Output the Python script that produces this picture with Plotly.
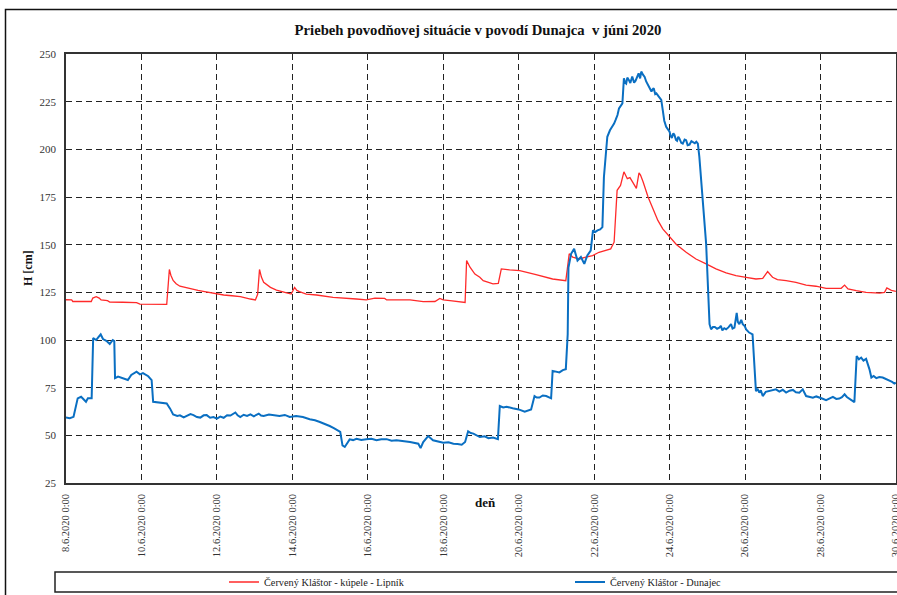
import pandas as pd
import plotly.graph_objects as go

START = pd.Timestamp("2020-06-08 00:00")

# Vodný stav H [cm], časy v dňoch od 8.6.2020 0:00
lipnik_days = [
    0.00, 0.15, 0.18, 0.60, 0.67, 0.71, 0.80, 0.88, 0.93, 1.10, 1.16, 1.50, 1.87, 1.96,
    2.30, 2.67, 2.74, 2.78, 2.84, 2.92, 3.02, 3.20, 3.38, 3.50, 3.64, 3.91, 4.18, 4.40,
    4.62, 4.89, 5.02, 5.08, 5.13, 5.18, 5.24, 5.42, 5.58, 5.80, 5.97, 6.06, 6.12, 6.19,
    6.37, 6.64, 7.08, 7.70, 7.96, 8.19, 8.45, 8.50, 9.12, 9.47, 9.78, 9.91, 10.00, 10.18,
    10.35, 10.58, 10.62, 10.71, 10.84, 10.97, 11.06, 11.32, 11.46, 11.54, 11.76, 12.03,
    12.46, 12.90, 13.25, 13.30, 13.34, 13.43, 13.61, 13.78, 13.96, 14.13, 14.31, 14.44,
    14.53, 14.61, 14.70, 14.79, 14.88, 14.95, 15.03, 15.12, 15.19, 15.23, 15.30, 15.43,
    15.56, 15.69, 15.82, 16.00, 16.18, 16.44, 16.70, 16.97, 17.23, 17.50, 17.76, 18.03,
    18.29, 18.47, 18.60, 18.73, 18.86, 19.09, 19.35, 19.62, 19.88, 20.15, 20.55, 20.64,
    20.73, 20.95, 21.21, 21.57, 21.70, 21.76, 21.88, 22.00,
]
lipnik_h = [
    121.1, 121.0, 120.2, 120.0, 120.2, 122.0, 122.7, 122.0, 121.0, 120.6, 119.9, 119.8, 119.6, 118.8,
    118.8, 118.7, 137.0, 134.0, 131.2, 129.5, 128.2, 127.3, 126.2, 126.0, 125.5, 124.5, 123.6, 123.2,
    122.7, 121.5, 121.0, 124.0, 137.0, 133.0, 130.3, 127.6, 126.2, 125.0, 124.1, 127.6, 126.0, 125.4,
    124.1, 123.6, 122.4, 121.5, 121.0, 122.0, 121.8, 121.0, 121.0, 120.1, 120.2, 121.8, 121.0, 120.6,
    120.1, 119.7, 141.7, 138.2, 134.6, 132.9, 131.1, 129.4, 129.7, 137.3, 136.8, 136.4,
    134.3, 132.0, 131.1, 138.0, 145.2, 143.5, 142.5, 143.5, 144.3, 146.0, 146.9, 147.8,
    151.3, 178.5, 181.1, 188.2, 184.6, 185.2, 182.5, 179.5, 187.6, 186.5, 182.9, 175.0,
    168.9, 162.7, 158.3, 153.9, 150.1, 146.0, 142.5, 139.9, 137.3, 135.2, 133.8, 132.9,
    132.0, 132.3, 135.9, 132.9, 131.7, 131.1, 130.2, 128.8, 128.2, 127.1, 127.1, 128.8,
    126.8, 125.9, 125.0, 124.6, 125.0, 127.3, 126.0, 125.5,
]

dunajec_days = [
    0.00, 0.10, 0.20, 0.28, 0.31, 0.40, 0.45, 0.53, 0.58, 0.68, 0.72, 0.80, 0.86, 0.92,
    0.98, 1.07, 1.16, 1.24, 1.28, 1.30, 1.38, 1.50, 1.64, 1.73, 1.87, 1.96, 2.04, 2.18,
    2.27, 2.31, 2.49, 2.67, 2.76, 2.84, 2.95, 3.02, 3.12, 3.20, 3.30, 3.38, 3.47, 3.56,
    3.65, 3.73, 3.82, 3.91, 4.00, 4.09, 4.18, 4.27, 4.36, 4.49, 4.55, 4.62, 4.71, 4.80,
    4.89, 4.98, 5.11, 5.17, 5.24, 5.38, 5.52, 5.66, 5.80, 5.93, 6.10, 6.28, 6.46, 6.60,
    6.73, 6.86, 6.99, 7.10, 7.21, 7.27, 7.33, 7.39, 7.52, 7.61, 7.70, 7.83, 7.96, 8.10,
    8.23, 8.36, 8.50, 8.63, 8.76, 8.94, 9.12, 9.34, 9.40, 9.47, 9.60, 9.73, 9.86, 10.00,
    10.14, 10.27, 10.38, 10.49, 10.58, 10.66, 10.73, 10.80, 10.97, 11.10, 11.20, 11.32,
    11.45, 11.50, 11.59, 11.68, 11.84, 12.00, 12.16, 12.33, 12.42, 12.48, 12.55, 12.64,
    12.73, 12.86, 12.90, 12.99, 13.08, 13.17, 13.25, 13.30, 13.32, 13.39, 13.47, 13.56,
    13.65, 13.74, 13.82, 13.91, 13.97, 14.03, 14.09, 14.16, 14.22, 14.26, 14.35, 14.42,
    14.48, 14.53, 14.57, 14.62, 14.66, 14.75, 14.79, 14.82, 14.85, 14.88, 14.92, 14.96,
    15.01, 15.04, 15.06, 15.10, 15.14, 15.18, 15.22, 15.25, 15.30, 15.34, 15.38, 15.43,
    15.47, 15.52, 15.55, 15.58, 15.62, 15.65, 15.70, 15.74, 15.78, 15.82, 15.86, 15.91,
    15.96, 16.00, 16.03, 16.06, 16.10, 16.13, 16.17, 16.20, 16.23, 16.26, 16.31, 16.35,
    16.40, 16.44, 16.48, 16.53, 16.58, 16.62, 16.67, 16.71, 16.75, 16.79, 16.88, 16.97,
    17.06, 17.10, 17.15, 17.20, 17.26, 17.32, 17.36, 17.40, 17.45, 17.50, 17.56, 17.63,
    17.67, 17.72, 17.78, 17.81, 17.85, 17.90, 17.94, 17.99, 18.03, 18.11, 18.20, 18.29,
    18.33, 18.38, 18.42, 18.47, 18.55, 18.64, 18.73, 18.82, 18.91, 19.00, 19.09, 19.18,
    19.27, 19.35, 19.44, 19.53, 19.62, 19.71, 19.80, 19.89, 19.97, 20.06, 20.15, 20.24,
    20.33, 20.42, 20.50, 20.57, 20.64, 20.70, 20.77, 20.84, 20.90, 20.96, 21.02, 21.08,
    21.14, 21.21, 21.26, 21.30, 21.35, 21.41, 21.48, 21.56, 21.65, 21.74, 21.83, 21.90,
    21.96, 22.00,
]
dunajec_h = [
    59.3, 59.0, 59.7, 66.0, 69.4, 70.2, 69.0, 67.6, 69.4, 69.4, 101.0, 100.0, 101.5, 103.0,
    100.5, 99.6, 97.9, 100.0, 99.5, 80.0, 80.8, 80.0, 79.0, 81.7, 83.4, 82.0, 82.6, 81.0,
    79.0, 67.6, 67.0, 66.7, 64.0, 61.0, 60.2, 60.5, 59.4, 60.0, 61.1, 60.6, 59.6, 59.3,
    60.5, 60.6, 59.2, 59.6, 58.8, 59.8, 59.2, 60.5, 60.4, 62.0, 60.5, 59.6, 60.8, 60.2,
    61.0, 60.0, 61.4, 60.4, 60.2, 60.9, 60.4, 60.2, 60.7, 59.6, 60.1, 59.6, 58.4, 57.9,
    57.0, 56.1, 54.9, 53.8, 52.6, 51.8, 44.7, 43.9, 47.9, 47.5, 48.2, 47.6, 47.9, 48.2,
    47.4, 47.9, 48.0, 47.2, 47.4, 47.0, 46.5, 45.6, 43.3, 46.5, 49.6, 47.4, 46.8, 46.1,
    46.4, 45.6, 45.4, 45.1, 46.5, 52.1, 51.2, 50.9, 49.1, 49.5, 48.5, 48.8,
    48.0, 65.4, 64.6, 65.0, 64.2, 63.6, 62.4, 63.6, 70.6, 69.8, 69.8, 70.9,
    70.6, 69.4, 83.8, 83.3, 83.0, 84.2, 84.7, 103.0, 138.0, 145.2, 147.8, 141.7,
    143.5, 139.9, 144.3, 146.9, 157.5, 156.6, 157.5, 158.0, 159.2, 185.5, 206.6, 210.0,
    211.8, 213.5, 215.4, 218.0, 221.5, 224.1, 237.3, 235.0, 234.5, 237.6, 236.4, 234.8,
    238.2, 236.5, 235.0, 236.0, 238.4, 239.9, 237.2, 240.8, 239.0, 238.0, 235.6, 233.8,
    232.0, 230.3, 231.4, 232.0, 229.0, 229.4, 228.0, 227.2, 225.9, 220.6, 215.0, 211.8,
    210.2, 209.2, 207.0, 206.0, 208.4, 207.5, 205.0, 204.5, 206.6, 205.7, 203.4, 203.0,
    205.1, 204.8, 202.2, 202.5, 204.3, 203.9, 203.2, 204.0, 203.0, 196.0, 173.2, 150.4,
    108.3, 105.6, 106.8, 106.8, 105.9, 106.5, 107.4, 105.0, 106.2, 105.6, 106.6, 108.3,
    106.0, 106.5, 114.2, 109.5, 108.3, 110.6, 108.3, 107.4, 105.6, 103.9, 103.0, 73.2,
    74.4, 72.4, 73.6, 70.6, 72.8, 73.2, 73.5, 74.1, 72.9, 73.9, 72.4, 73.4,
    73.8, 72.6, 72.4, 74.1, 70.6, 70.2, 69.7, 70.4, 70.0, 69.2, 68.5, 69.4,
    70.2, 69.1, 69.3, 70.0, 71.5, 70.1, 69.3, 68.3, 67.4, 91.6, 89.9, 90.8,
    89.2, 90.1, 87.5, 84.6, 80.3, 81.1, 80.0, 80.6, 80.3, 79.6, 78.6, 78.0,
    77.1, 77.6,
]

tick_days = [0, 2, 4, 6, 8, 10, 12, 14, 16, 18, 20, 22]
tick_labels = [
    "8.6.2020 0:00", "10.6.2020 0:00", "12.6.2020 0:00", "14.6.2020 0:00",
    "16.6.2020 0:00", "18.6.2020 0:00", "20.6.2020 0:00", "22.6.2020 0:00",
    "24.6.2020 0:00", "26.6.2020 0:00", "28.6.2020 0:00", "30.6.2020 0:00",
]
y_ticks = [25, 50, 75, 100, 125, 150, 175, 200, 225, 250]


def to_time(days):
    return START + pd.to_timedelta(days, unit="D")


SERIF = "Liberation Serif, Times New Roman, serif"

fig = go.Figure()
fig.add_trace(go.Scatter(
    x=to_time(lipnik_days), y=lipnik_h, mode="lines",
    name="Červený Kláštor - kúpele - Lipník",
    line=dict(color="#ff2a2a", width=1.3),
    legend="legend",
))
fig.add_trace(go.Scatter(
    x=to_time(dunajec_days), y=dunajec_h, mode="lines",
    name="Červený Kláštor - Dunajec",
    line=dict(color="#0a6fc2", width=2.0),
    legend="legend2",
))

# plot area: 66..896 px horizontally, 54..483 px vertically
L, R, T, B = 66, 1, 54, 112
PW, PH = 897 - L - R, 595 - T - B


def px(xp):
    return (xp - L) / PW


def py(yp):
    return (595 - B - yp) / PH


legend_style = dict(
    orientation="h", xref="paper", yref="paper",
    xanchor="left", yanchor="middle", y=py(582),
    bgcolor="rgba(0,0,0,0)", borderwidth=0,
    font=dict(family=SERIF, size=10.3, color="#222222"),
    itemwidth=30,
)

fig.update_layout(
    width=897, height=595,
    margin=dict(l=L, r=R, t=T, b=B, autoexpand=False),
    paper_bgcolor="white", plot_bgcolor="white",
    font=dict(family=SERIF, color="#333333", size=11),
    title=dict(
        text="Priebeh povodňovej situácie v povodí Dunajca  v júni 2020",
        xref="container", x=478 / 897, xanchor="center",
        yref="container", y=1 - 30 / 595, yanchor="middle",
        font=dict(family=SERIF, size=14.7, color="#111111", weight="bold"),
    ),
    showlegend=True,
    legend=dict(legend_style, x=px(224)),
    legend2=dict(legend_style, x=px(570)),
)

fig.update_xaxes(
    type="date",
    range=[to_time(0), to_time(22.003)],
    tickmode="array", tickvals=to_time(tick_days), ticktext=tick_labels,
    tickangle=-90, tickfont=dict(family=SERIF, size=10.5, color="#333333"),
    ticks="", ticklabelstandoff=5, ticklabeloverflow="allow",
    showgrid=True, gridcolor="#222222", griddash="6px,4px", gridwidth=1,
    showline=True, linecolor="#333333", linewidth=1.5, mirror=True,
    zeroline=False,
)
fig.update_yaxes(
    range=[25, 250], tickmode="array", tickvals=y_ticks,
    tickfont=dict(family=SERIF, size=11, color="#333333"),
    ticks="", ticklabelstandoff=6,
    showgrid=True, gridcolor="#222222", griddash="6px,4px", gridwidth=1,
    showline=True, linecolor="#333333", linewidth=1.5, mirror=True,
    zeroline=False,
)

# axis titles
fig.add_annotation(
    text="<b>H [cm]</b>", xref="paper", yref="paper",
    x=px(28), y=py(268), xanchor="center", yanchor="middle",
    showarrow=False, textangle=-90,
    font=dict(family=SERIF, size=12, color="#111111"),
)
fig.add_annotation(
    text="<b>deň</b>", xref="paper", yref="paper",
    x=px(485), y=py(512), showarrow=False,
    font=dict(family=SERIF, size=13, color="#111111"),
)

# outer chart frame and legend box
fig.add_shape(
    type="rect", xref="paper", yref="paper",
    x0=px(5.5), x1=px(920), y0=py(9.5), y1=py(640),
    line=dict(color="#111111", width=1.5), fillcolor="rgba(0,0,0,0)", layer="below",
)
fig.add_shape(
    type="rect", xref="paper", yref="paper",
    x0=px(55), x1=px(920), y0=py(572), y1=py(592),
    line=dict(color="#222222", width=1.5), fillcolor="rgba(0,0,0,0)",
)

fig.write_html("out.html")
